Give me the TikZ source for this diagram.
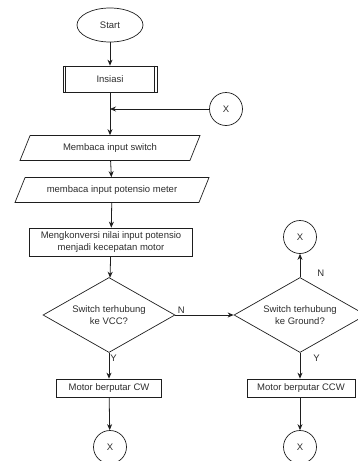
\documentclass[tikz,border=0pt]{standalone}
\usepackage{fontspec}
\setmainfont{Liberation Sans}
\usetikzlibrary{arrows.meta, positioning, shapes.geometric, calc}
\usepackage{xcolor}
\definecolor{garis}{RGB}{30,30,30}
\definecolor{teks}{RGB}{45,45,45}

\begin{document}
\begin{tikzpicture}[
  x=1pt, y=-1pt,
  every node/.style={font=\fontsize{9.5}{12}\selectfont, text=teks},
  terminal/.style={ellipse, draw=garis, line width=0.7pt, minimum width=66pt, minimum height=34pt},
  prosesnode/.style={rectangle, draw=garis, line width=0.7pt, align=center, inner sep=2pt},
  ionode/.style={trapezium, trapezium left angle=57, trapezium right angle=123, trapezium stretches body, draw=garis, line width=0.7pt, minimum height=25pt},
  cabang/.style={diamond, aspect=1.76, inner sep=0pt, draw=garis, line width=0.7pt, align=center, minimum width=132pt, minimum height=75pt},
  konektor/.style={circle, draw=garis, line width=0.7pt, minimum size=33pt, inner sep=0pt},
  arr/.style={-{Stealth[length=6pt, width=5pt]}, draw=garis, line width=0.8pt},
  lbl/.style={font=\fontsize{9.5}{12}\selectfont, inner sep=1pt}
]
  \useasboundingbox (0,0) rectangle (358,461);

  % Alur utama
  \node[terminal] (start) at (110,25) {Start};
  \node[prosesnode, minimum width=94pt, minimum height=26pt] (insiasi) at (110,79) {Insiasi};
  \draw[garis, line width=0.7pt] ([xshift=3pt]insiasi.north west) -- ([xshift=3pt]insiasi.south west);
  \draw[garis, line width=0.7pt] ([xshift=-3pt]insiasi.north east) -- ([xshift=-3pt]insiasi.south east);
  \node[konektor] (xmasuk) at (226,109) {X};
  \node[ionode, minimum width=180pt] (bacaswitch) at (110,148) {Membaca input switch};
  \node[ionode, minimum width=194pt] (bacapot) at (112,190) {membaca input potensio meter};
  \node[prosesnode, minimum width=163pt, minimum height=28pt] (konversi) at (111,242) {Mengkonversi nilai input potensio\\menjadi kecepatan motor};

  % Percabangan
  \node[cabang] (cekvcc) at (109,315) {Switch terhubung\\ke VCC?};
  \node[cabang] (cekgnd) at (300,315) {Switch terhubung\\ke Ground?};
  \node[konektor] (xatas) at (300,237) {X};

  % Aksi motor
  \node[prosesnode, minimum width=105pt, minimum height=18pt] (motorcw) at (109,388) {Motor berputar CW};
  \node[prosesnode, minimum width=108pt, minimum height=18pt] (motorccw) at (301,388) {Motor berputar CCW};
  \node[konektor] (xcw) at (110,447) {X};
  \node[konektor] (xccw) at (300,447) {X};

  % Panah
  \draw[arr] (start) -- (insiasi);
  \draw[arr] (insiasi) -- (bacaswitch);
  \draw[arr] (xmasuk) -- (xmasuk -| insiasi.south);
  \draw[arr] (bacaswitch) -- (bacapot);
  \draw[arr] (bacapot) -- (konversi);
  \draw[arr] (konversi) -- (cekvcc);
  \draw[arr] (cekvcc.south) -- node[lbl, pos=0.2, right] {Y} (motorcw);
  \draw[arr] (cekvcc.east) -- node[lbl, pos=0.1, above] {N} (cekgnd.west);
  \draw[arr] (cekgnd.north) -- node[lbl, pos=0.15, right=16pt] {N} (xatas);
  \draw[arr] (cekgnd.south) -- node[lbl, pos=0.2, right=12pt] {Y} (motorccw.north -| cekgnd.south);
  \draw[arr] (motorcw) -- (xcw);
  \draw[arr] (motorccw.south -| xccw) -- (xccw);

\end{tikzpicture}
\end{document}
